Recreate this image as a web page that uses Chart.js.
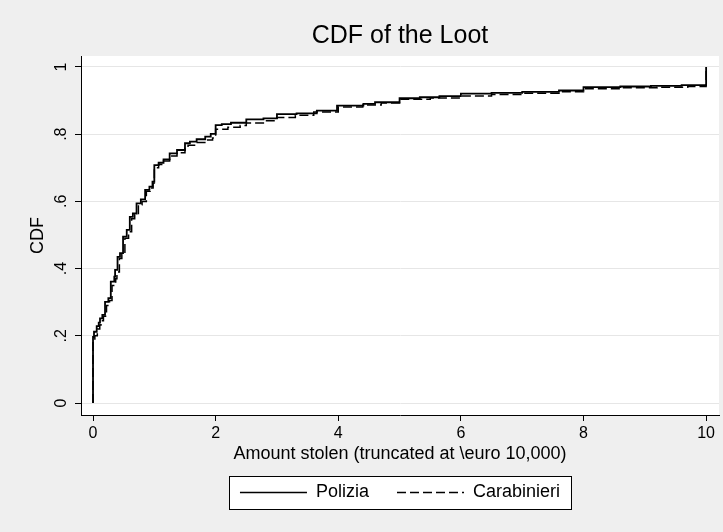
<!DOCTYPE html>
<html><head><meta charset="utf-8">
<script src="https://cdn.jsdelivr.net/npm/chart.js@4.4.1/dist/chart.umd.min.js"></script>
<style>html,body{margin:0;padding:0;background:#efefef;overflow:hidden}</style>
</head><body>
<canvas id="c" width="723" height="532"></canvas>
<script>
// ---- data (amount in thousands of euro, CDF value after each jump) ----
const seriesNames = ['Polizia', 'Carabinieri'];
const poliziaX = [0, 0, 0.016, 0.06, 0.093, 0.114, 0.152, 0.196, 0.25, 0.29, 0.347, 0.36, 0.40, 0.44, 0.49, 0.55, 0.60, 0.65, 0.71, 0.78, 0.85, 0.92, 0.97, 1.0, 1.07, 1.15, 1.25, 1.37, 1.50, 1.58, 1.69, 1.83, 1.92, 2.0, 2.1, 2.25, 2.5, 2.78, 3.0, 3.32, 3.65, 3.98, 4.41, 4.6, 5.0, 5.33, 5.65, 6.0, 6.5, 7.0, 7.6, 8.0, 8.6, 9.1, 9.6, 10];
const poliziaY = [0, 0.197, 0.212, 0.229, 0.239, 0.252, 0.262, 0.301, 0.312, 0.361, 0.376, 0.396, 0.435, 0.446, 0.495, 0.515, 0.554, 0.564, 0.594, 0.606, 0.634, 0.644, 0.659, 0.708, 0.715, 0.725, 0.743, 0.753, 0.773, 0.778, 0.785, 0.793, 0.801, 0.827, 0.830, 0.834, 0.844, 0.847, 0.860, 0.862, 0.870, 0.885, 0.890, 0.895, 0.907, 0.910, 0.913, 0.921, 0.923, 0.926, 0.930, 0.940, 0.942, 0.944, 0.946, 1.0];
const carabinieriX = [0, 0, 0.03, 0.07, 0.11, 0.13, 0.17, 0.22, 0.27, 0.31, 0.37, 0.39, 0.43, 0.47, 0.52, 0.58, 0.63, 0.68, 0.74, 0.80, 0.87, 0.93, 0.98, 1.0, 1.07, 1.15, 1.25, 1.37, 1.50, 1.55, 1.70, 1.85, 1.95, 2.0, 2.2, 2.4, 2.5, 2.8, 3.0, 3.3, 3.6, 4.0, 4.4, 4.7, 5.0, 5.5, 6.0, 6.5, 7.0, 7.6, 8.0, 8.6, 9.2, 9.7, 10];
const carabinieriY = [0, 0.186, 0.20, 0.22, 0.232, 0.245, 0.258, 0.29, 0.305, 0.35, 0.37, 0.39, 0.43, 0.442, 0.49, 0.51, 0.548, 0.56, 0.59, 0.60, 0.63, 0.64, 0.655, 0.70, 0.71, 0.72, 0.735, 0.745, 0.758, 0.767, 0.775, 0.783, 0.789, 0.815, 0.821, 0.826, 0.833, 0.840, 0.850, 0.856, 0.866, 0.881, 0.887, 0.893, 0.904, 0.908, 0.914, 0.918, 0.922, 0.926, 0.935, 0.938, 0.940, 0.942, 1.0];
const xTickValues = [0, 2, 4, 6, 8, 10];
const xTickLabels = ['0', '2', '4', '6', '8', '10'];
const yTickValues = [0, 0.2, 0.4, 0.6, 0.8, 1];
const yTickLabels = ['0', '.2', '.4', '.6', '.8', '1'];

const FONT = '"Liberation Sans", Arial, Helvetica, sans-serif';
Chart.defaults.font.family = FONT;
Chart.defaults.color = '#000';

const frame = {
  id: 'frame',
  beforeDraw(chart) {
    const {ctx, chartArea: a} = chart;
    ctx.save();
    ctx.fillStyle = '#efefef';
    ctx.fillRect(0, 0, chart.width, chart.height);
    ctx.fillStyle = '#ffffff';
    ctx.fillRect(a.left, a.top, a.right - a.left, a.bottom - a.top);
    const hb = chart.legend && chart.legend.legendHitBoxes;
    if (hb && hb.length) {
      const l = Math.round(Math.min(...hb.map(h => h.left)) - 11);
      const r = Math.round(Math.max(...hb.map(h => h.left + h.width)) + 11);
      const cy = hb[0].top + hb[0].height / 2;
      const t = Math.round(cy - 16.5);
      ctx.fillStyle = '#ffffff';
      ctx.fillRect(l, t, r - l, 33);
      ctx.strokeStyle = '#000';
      ctx.lineWidth = 1;
      ctx.strokeRect(l + 0.5, t + 0.5, r - l, 33);
    }
    ctx.restore();
  }
};

new Chart(document.getElementById('c'), {
  type: 'line',
  data: {
    datasets: [
      {
        label: seriesNames[0],
        data: poliziaX.map((x, i) => ({x, y: poliziaY[i]})),
        stepped: 'before',
        borderColor: '#000',
        borderWidth: 1.8,
        pointRadius: 0,
        fill: false
      },
      {
        label: seriesNames[1],
        data: carabinieriX.map((x, i) => ({x, y: carabinieriY[i]})),
        stepped: 'before',
        borderColor: '#000',
        borderWidth: 1.5,
        borderDash: [9, 4],
        pointRadius: 0,
        fill: false
      }
    ]
  },
  options: {
    responsive: false,
    animation: false,
    devicePixelRatio: 1,
    layout: {padding: {left: 0, right: 4, top: 0, bottom: 20.5}},
    plugins: {
      tooltip: {enabled: false},
      title: {
        display: true,
        text: 'CDF of the Loot',
        fullSize: false,
        color: '#000',
        font: {size: 25, weight: 'normal', family: FONT},
        padding: {top: 21, bottom: 5}
      },
      legend: {
        display: true,
        position: 'bottom',
        fullSize: false,
        labels: {
          usePointStyle: true,
          pointStyle: 'line',
          pointStyleWidth: 67,
          padding: 28,
          color: '#000',
          font: {size: 18, family: FONT},
          generateLabels: chart => {
            const items = Chart.defaults.plugins.legend.labels.generateLabels(chart);
            items.forEach(it => {
              const ds = chart.data.datasets[it.datasetIndex];
              it.lineDash = ds.borderDash || [];
              it.lineWidth = 1.3;
              it.strokeStyle = '#000';
              it.fillStyle = '#000';
            });
            return items;
          }
        }
      }
    },
    scales: {
      x: {
        type: 'linear',
        min: -0.196,
        max: 10.21,
        afterBuildTicks: s => { s.ticks = xTickValues.map(v => ({value: v})); },
        afterFit: s => { s.height = 40.5; },
        ticks: {
          autoSkip: false,
          maxRotation: 0,
          padding: 3,
          color: '#000',
          font: {size: 16, family: FONT},
          callback: (v, i) => xTickLabels[i]
        },
        grid: {drawOnChartArea: false, drawTicks: true, tickLength: 6, tickColor: '#000', tickWidth: 1},
        border: {display: true, color: '#000', width: 1},
        title: {
          display: true,
          text: 'Amount stolen (truncated at \\euro 10,000)',
          color: '#000',
          font: {size: 18, family: FONT},
          padding: {top: 0, bottom: -9.5}
        }
      },
      y: {
        type: 'linear',
        min: -0.0357,
        max: 1.0327,
        afterBuildTicks: s => { s.ticks = yTickValues.map(v => ({value: v})); },
        afterFit: s => { s.width = 81; },
        ticks: {
          autoSkip: false,
          minRotation: 90,
          maxRotation: 90,
          crossAlign: 'center',
          padding: 7,
          color: '#000',
          font: {size: 16, family: FONT},
          callback: (v, i) => yTickLabels[i]
        },
        grid: {color: '#e6e6e6', lineWidth: 1, drawTicks: true, tickLength: 6, tickColor: '#000', tickWidth: 1},
        border: {display: true, color: '#000', width: 1},
        title: {
          display: true,
          text: 'CDF',
          color: '#000',
          font: {size: 18, family: FONT},
          padding: {top: 27.2, bottom: 0}
        }
      }
    }
  },
  plugins: [frame]
});
</script>
</body></html>
